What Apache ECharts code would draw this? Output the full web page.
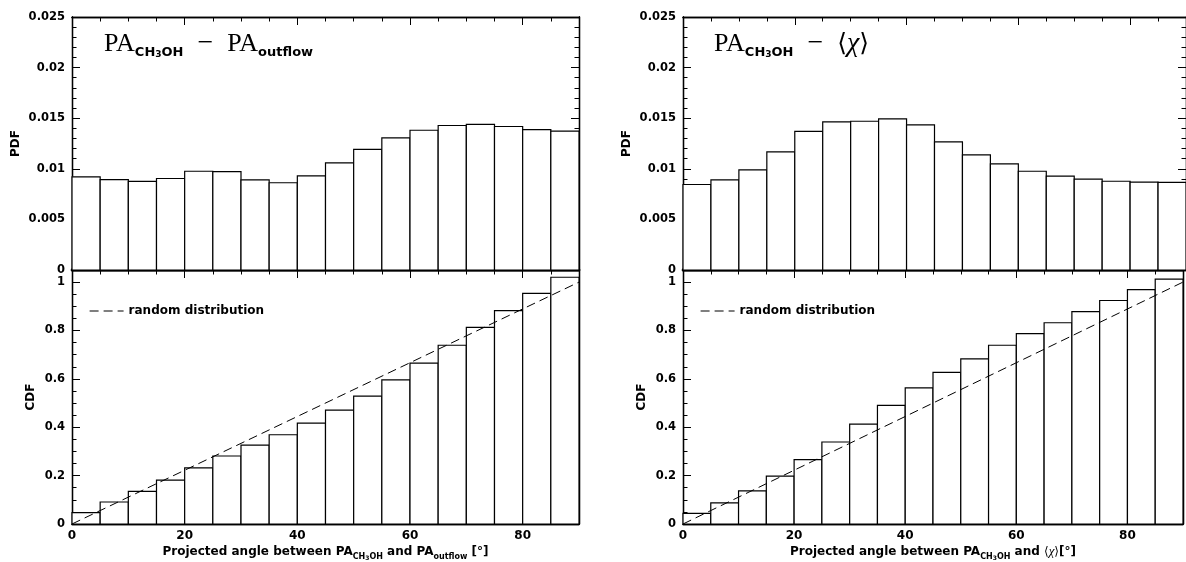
<!DOCTYPE html>
<html>
<head>
<meta charset="utf-8">
<script src="https://cdn.jsdelivr.net/npm/echarts@6/dist/echarts.min.js"></script>
<style>
  html, body { margin: 0; padding: 0; background: #fff; }
  #chart { width: 1186px; height: 562px; }
</style>
</head>
<body>
<div id="chart"></div>
<script>
// histogram bins: projected angle, 5 degree wide
var binStart = [0, 5, 10, 15, 20, 25, 30, 35, 40, 45, 50, 55, 60, 65, 70, 75, 80, 85];
var binWidth = 5;

// PA_CH3OH - PA_outflow
var pdfOutflow = [0.00921, 0.00894, 0.00875, 0.00904, 0.00976, 0.00973, 0.00891, 0.00862, 0.00931,
                  0.01059, 0.01191, 0.01306, 0.01381, 0.01428, 0.01438, 0.01418, 0.01388, 0.01372];
var cdfOutflow = [0.047, 0.091, 0.135, 0.181, 0.232, 0.281, 0.326, 0.369, 0.417,
                  0.471, 0.529, 0.596, 0.665, 0.739, 0.813, 0.882, 0.953, 1.02];

// PA_CH3OH - <chi>
var pdfChi = [0.00845, 0.00891, 0.0099, 0.01168, 0.01369, 0.01464, 0.0147, 0.01494, 0.01435,
              0.01267, 0.01138, 0.01049, 0.00976, 0.00927, 0.00897, 0.00877, 0.00868, 0.00865];
var cdfChi = [0.044, 0.087, 0.137, 0.198, 0.266, 0.339, 0.413, 0.49, 0.563,
              0.627, 0.683, 0.739, 0.787, 0.832, 0.878, 0.924, 0.969, 1.012];

// uniform (random) CDF
var randomX = [0, 90];
var randomY = [0, 1];

var ink = '#000';
var sans = "'DejaVu Sans', sans-serif";
var serif = "'Liberation Serif', 'DejaVu Serif', serif";

var grids = [
  { left: 72, top: 17, width: 507, height: 253 },
  { left: 72, top: 270, width: 507, height: 254 },
  { left: 683, top: 17, width: 507, height: 253 },
  { left: 683, top: 270, width: 507, height: 254 }
];

var xAxes = [], yAxes = [];

function subRich(size) {
  return {
    t: { fontFamily: sans, fontWeight: 'bold', fontSize: size, lineHeight: 18, color: ink },
    s: { fontFamily: sans, fontWeight: 'bold', fontSize: 8, lineHeight: 8, verticalAlign: 'bottom', color: ink },
    s3: { fontFamily: sans, fontWeight: 'bold', fontSize: 6, lineHeight: 5, verticalAlign: 'bottom', color: ink },
    ti: { fontFamily: serif, fontStyle: 'italic', fontSize: size + 1, lineHeight: 18, color: ink },
    b: { fontFamily: sans, fontSize: size, lineHeight: 18, color: ink }
  };
}

function axisLineStyle(w) {
  return { show: true, onZero: false, lineStyle: { color: ink, width: w } };
}

// four axes per side-pair: short ticks every minor step, long ticks every major step
function panelAxes(g, cfg) {
  var xTicks = [{ step: 5, len: 4.5 }, { step: 20, len: 8 }];
  var yTicks = [{ step: cfg.yMinor, len: 4.5 }, { step: cfg.yMajor, len: 8 }];
  var xMain = -1, yMain = -1;
  ['bottom', 'top'].forEach(function(pos) {
    xTicks.forEach(function(tk, k) {
      var labels = pos === 'bottom' && k === 1 && cfg.isCdf;
      var lw = (pos === 'bottom' && !cfg.isCdf) || (pos === 'top' && cfg.isCdf) ? 2.4 : 1.3;
      xAxes.push({
        type: 'value', gridIndex: g, position: pos, min: 0, max: 90, interval: tk.step,
        axisLine: axisLineStyle(lw),
        axisTick: { show: true, inside: true, length: tk.len, lineStyle: { color: ink, width: 1 } },
        splitLine: { show: false },
        axisLabel: {
          show: labels, margin: 6, color: ink, fontFamily: sans, fontWeight: 'bold', fontSize: 12,
          formatter: function(v) { return v > 89 ? '' : String(v); }
        },
        name: labels ? cfg.xName : '',
        nameLocation: 'middle', nameGap: 19,
        nameTextStyle: { rich: subRich(12) }
      });
      if (pos === 'bottom' && k === 1) xMain = xAxes.length - 1;
    });
  });
  ['left', 'right'].forEach(function(pos) {
    yTicks.forEach(function(tk, k) {
      var labels = pos === 'left' && k === 1;
      yAxes.push({
        type: 'value', gridIndex: g, position: pos, min: 0, max: cfg.yMax, interval: tk.step,
        axisLine: axisLineStyle(1.3),
        axisTick: { show: true, inside: true, length: tk.len, lineStyle: { color: ink, width: 1 } },
        splitLine: { show: false },
        axisLabel: {
          show: labels, margin: 7, color: ink, fontFamily: sans, fontWeight: 'bold', fontSize: 11.5,
          formatter: function(v) { return v > cfg.yLabelMax ? '' : String(+v.toFixed(3)); }
        },
        name: labels ? cfg.yName : '',
        nameLocation: 'middle', nameGap: cfg.yNameGap,
        nameTextStyle: { color: ink, fontFamily: sans, fontWeight: 'bold', fontSize: 12 }
      });
      if (labels) yMain = yAxes.length - 1;
    });
  });
  return { x: xMain, y: yMain };
}

var xNameOutflow = '{t|Projected angle between PA}{s|CH}{s3|3}{s|OH}{t| and PA}{s|outflow}{t| [°]}';
var xNameChi = '{t|Projected angle between PA}{s|CH}{s3|3}{s|OH}{t| and }{b|⟨}{ti|χ}{b|⟩}{t|[°]}';

var a0 = panelAxes(0, { yMax: 0.025, yMajor: 0.005, yMinor: 0.001, yLabelMax: 0.0251, yName: 'PDF', yNameGap: 50, isCdf: false });
var a1 = panelAxes(1, { yMax: 1.05, yMajor: 0.2, yMinor: 0.05, yLabelMax: 1.001, yName: 'CDF', yNameGap: 35, isCdf: true, xName: xNameOutflow });
var a2 = panelAxes(2, { yMax: 0.025, yMajor: 0.005, yMinor: 0.001, yLabelMax: 0.0251, yName: 'PDF', yNameGap: 50, isCdf: false });
var a3 = panelAxes(3, { yMax: 1.05, yMajor: 0.2, yMinor: 0.05, yLabelMax: 1.001, yName: 'CDF', yNameGap: 35, isCdf: true, xName: xNameChi });

function renderBin(params, api) {
  var x0 = api.value(0), v = api.value(1);
  var p0 = api.coord([x0, 0]);
  var p1 = api.coord([x0 + binWidth, v]);
  return {
    type: 'rect',
    shape: { x: p0[0], y: p1[1], width: p1[0] - p0[0], height: p0[1] - p1[1] },
    style: { fill: '#fff', stroke: ink, lineWidth: 1.2 }
  };
}

function binSeries(values, axes) {
  return {
    type: 'custom', xAxisIndex: axes.x, yAxisIndex: axes.y,
    renderItem: renderBin,
    encode: { x: 0, y: 1 },
    data: binStart.map(function(b, i) { return [b, values[i]]; })
  };
}

function randomSeries(axes) {
  return {
    name: 'random distribution', type: 'line', xAxisIndex: axes.x, yAxisIndex: axes.y,
    symbol: 'none', z: 5,
    itemStyle: { color: ink },
    lineStyle: { color: ink, width: 1, type: [9, 5] },
    data: randomX.map(function(x, i) { return [x, randomY[i]]; })
  };
}

function legendAt(left) {
  return {
    data: ['random distribution'], left: left, top: 300, itemWidth: 34, itemHeight: 14,
    selectedMode: false,
    itemStyle: { opacity: 0 },
    lineStyle: { width: 1.2 },
    textStyle: { color: ink, fontFamily: sans, fontWeight: 'bold', fontSize: 12 }
  };
}

var titleRich = {
  pa: { fontFamily: serif, fontWeight: 'normal', fontSize: 26, lineHeight: 30, color: ink },
  op: { fontFamily: serif, fontWeight: 'normal', fontSize: 28, lineHeight: 30, color: ink },
  s: { fontFamily: sans, fontWeight: 'bold', fontSize: 13, lineHeight: 12, verticalAlign: 'bottom', color: ink },
  s3: { fontFamily: sans, fontWeight: 'bold', fontSize: 9, lineHeight: 6, verticalAlign: 'bottom', color: ink },
  ch: { fontFamily: "'DejaVu Serif', serif", fontWeight: 'normal', fontSize: 25, lineHeight: 30, color: ink },
  chi: { fontFamily: serif, fontWeight: 'normal', fontStyle: 'italic', fontSize: 28, lineHeight: 30, color: ink }
};

var chart = echarts.init(document.getElementById('chart'));
chart.setOption({
  animation: false,
  backgroundColor: '#fff',
  title: [
    { text: '{pa|PA}{s|CH}{s3|3}{s|OH}{op|  −  }{pa|PA}{s|outflow}', left: 99, top: 24, textStyle: { fontWeight: 'normal', rich: titleRich } },
    { text: '{pa|PA}{s|CH}{s3|3}{s|OH}{op|  −  }{ch|⟨}{chi|χ}{ch|⟩}', left: 709, top: 24, textStyle: { fontWeight: 'normal', rich: titleRich } }
  ],
  legend: [legendAt(84), legendAt(695)],
  grid: grids,
  xAxis: xAxes,
  yAxis: yAxes,
  series: [
    binSeries(pdfOutflow, a0),
    binSeries(cdfOutflow, a1),
    randomSeries(a1),
    binSeries(pdfChi, a2),
    binSeries(cdfChi, a3),
    randomSeries(a3)
  ]
});
</script>
</body>
</html>
